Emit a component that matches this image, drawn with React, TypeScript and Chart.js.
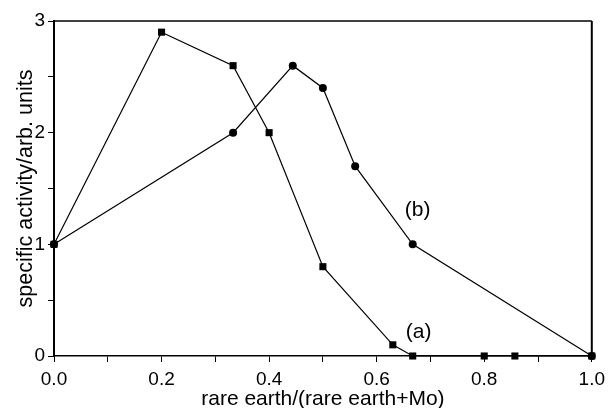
import React, { useEffect, useRef } from "react";
import { Chart, registerables } from "chart.js";

Chart.register(...registerables);

// Series (a): squares
const seriesAX = [0, 0.2, 0.333, 0.4, 0.5, 0.63, 0.667, 0.8, 0.857, 1.0];
const seriesAY = [1.0, 2.9, 2.6, 2.0, 0.8, 0.1, 0.0, 0.0, 0.0, 0.0];
// Series (b): circles
const seriesBX = [0, 0.333, 0.444, 0.5, 0.56, 0.667, 1.0];
const seriesBY = [1.0, 2.0, 2.6, 2.4, 1.7, 1.0, 0.0];

const xTickValues = [0, 0.1, 0.2, 0.3, 0.4, 0.5, 0.6, 0.7, 0.8, 0.9, 1.0];
const xTickLabels = ["0.0", "", "0.2", "", "0.4", "", "0.6", "", "0.8", "", "1.0"];
const yTickValues = [0, 0.5, 1, 1.5, 2, 2.5, 3];
const yTickLabels = ["0", "", "1", "", "2", "", "3"];

const xTitle = "rare earth/(rare earth+Mo)";
const yTitle = "specific activity/arb. units";

const curveLabels = ["(a)", "(b)"];
const curveLabelX = [0.678, 0.676];
const curveLabelY = [0.21, 1.31];

const FONT = "'Liberation Sans', Arial, Helvetica, sans-serif";

export default function App() {
  const ref = useRef<HTMLCanvasElement | null>(null);

  useEffect(() => {
    const canvas = ref.current;
    if (!canvas) return;

    const boxPlugin = {
      id: "boxAndLabels",
      afterDatasetsDraw(chart: any) {
        const { ctx, chartArea, scales } = chart;
        ctx.save();
        ctx.strokeStyle = "#000";
        ctx.lineWidth = 1.5;
        ctx.beginPath();
        ctx.moveTo(chartArea.left, chartArea.top);
        ctx.lineTo(chartArea.right, chartArea.top);
        ctx.stroke();
        ctx.lineWidth = 2;
        ctx.beginPath();
        ctx.moveTo(chartArea.right, chartArea.top);
        ctx.lineTo(chartArea.right, chartArea.bottom);
        ctx.stroke();
        ctx.fillStyle = "#000";
        ctx.font = `21px ${FONT}`;
        ctx.textAlign = "center";
        ctx.textBaseline = "middle";
        curveLabels.forEach((t, i) => {
          ctx.fillText(
            t,
            scales.x.getPixelForValue(curveLabelX[i]),
            scales.y.getPixelForValue(curveLabelY[i])
          );
        });
        ctx.restore();
      },
    };

    const chart = new Chart(canvas, {
      type: "line",
      data: {
        datasets: [
          {
            label: "(a)",
            data: seriesAX.map((x, i) => ({ x, y: seriesAY[i] })),
            borderColor: "#000",
            backgroundColor: "#000",
            borderWidth: 1.2,
            pointStyle: "rect",
            pointRadius: 5,
            pointBackgroundColor: "#000",
            pointBorderColor: "#000",
            pointBorderWidth: 0,
            clip: false,
          },
          {
            label: "(b)",
            data: seriesBX.map((x, i) => ({ x, y: seriesBY[i] })),
            borderColor: "#000",
            backgroundColor: "#000",
            borderWidth: 1.2,
            pointStyle: "circle",
            pointRadius: 4,
            pointBackgroundColor: "#000",
            pointBorderColor: "#000",
            pointBorderWidth: 0,
            clip: false,
          },
        ],
      },
      options: {
        animation: false,
        responsive: false,
        layout: { padding: { top: 21, right: 17, left: 0, bottom: 0 } },
        plugins: {
          legend: { display: false },
          tooltip: { enabled: false },
        },
        scales: {
          x: {
            type: "linear",
            min: 0,
            max: 1,
            afterBuildTicks: (scale: any) => {
              scale.ticks = xTickValues.map((v) => ({ value: v }));
            },
            afterFit: (scale: any) => {
              scale.height = 52;
            },
            ticks: {
              autoSkip: false,
              maxRotation: 0,
              padding: 6,
              color: "#000",
              font: { family: FONT, size: 19 },
              callback: (_v: any, i: number) => xTickLabels[i],
            },
            grid: {
              drawOnChartArea: false,
              drawTicks: true,
              tickLength: 6,
              color: "#000",
              lineWidth: 1,
            },
            border: { display: true, color: "#000", width: 1.5 },
            title: {
              display: true,
              text: xTitle,
              color: "#000",
              font: { family: FONT, size: 21 },
              padding: { top: 0, bottom: -4 },
            },
          },
          y: {
            type: "linear",
            min: 0,
            max: 3,
            afterBuildTicks: (scale: any) => {
              scale.ticks = yTickValues.map((v) => ({ value: v }));
            },
            afterFit: (scale: any) => {
              scale.width = 54;
            },
            ticks: {
              autoSkip: false,
              padding: 3,
              color: "#000",
              font: { family: FONT, size: 19 },
              callback: (_v: any, i: number) => yTickLabels[i],
            },
            grid: {
              drawOnChartArea: false,
              drawTicks: true,
              tickLength: 6,
              color: "#000",
              lineWidth: 1,
            },
            border: { display: true, color: "#000", width: 2 },
            title: {
              display: true,
              text: yTitle,
              color: "#000",
              font: { family: FONT, size: 21.5 },
              padding: { top: 13, bottom: 0 },
            },
          },
        },
      },
      plugins: [boxPlugin],
    } as any);

    return () => chart.destroy();
  }, []);

  return (
    <div style={{ position: "absolute", left: 0, top: 0, width: 611, height: 408, background: "#fff" }}>
      <canvas ref={ref} width={611} height={408} style={{ display: "block" }} />
    </div>
  );
}
